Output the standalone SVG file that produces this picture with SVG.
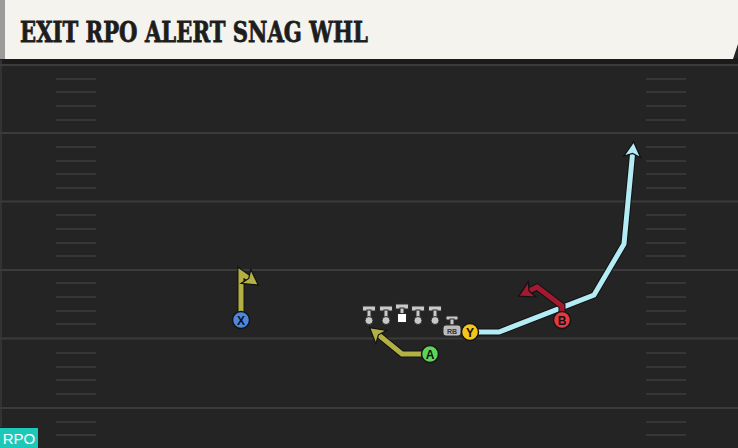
<svg xmlns="http://www.w3.org/2000/svg" width="738" height="448" viewBox="0 0 738 448">
<defs>
<style>
.yard{stroke:#3b3b3b;stroke-width:2}
.hash{stroke:#363636;stroke-width:2}
.outline{fill:none;stroke:#111;stroke-width:7;stroke-linejoin:miter;stroke-linecap:butt}
.route{fill:none;stroke-width:5;stroke-linejoin:miter;stroke-linecap:butt}
.olive{stroke:#b3b145}
.sky{stroke:#b4ecf6}
.crimson{stroke:#a3192f}
.pl{stroke:#151515;stroke-width:1.5}
.lbl{font-family:"Liberation Sans",Arial,sans-serif;font-weight:bold;font-size:12px;fill:#111;text-anchor:middle}
.lin{fill:#c9c9c9;stroke:#2a2a2a;stroke-width:1}
</style>
<marker id="ahOlive" markerUnits="userSpaceOnUse" markerWidth="30" markerHeight="30" refX="2" refY="0" viewBox="-15 -15 30 30" orient="auto" overflow="visible">
<path d="M-6,-8.5 L9,0 L-6,8.5 L-2.5,0 Z" fill="#b3b145" stroke="#111" stroke-width="1.2"/>
</marker>
<marker id="ahSky" markerUnits="userSpaceOnUse" markerWidth="30" markerHeight="30" refX="2" refY="0" viewBox="-15 -15 30 30" orient="auto" overflow="visible">
<path d="M-6,-8.5 L9,0 L-6,8.5 L-2.5,0 Z" fill="#b4ecf6" stroke="#111" stroke-width="1.2"/>
</marker>
<marker id="ahCrimson" markerUnits="userSpaceOnUse" markerWidth="30" markerHeight="30" refX="2" refY="0" viewBox="-15 -15 30 30" orient="auto" overflow="visible">
<path d="M-6,-8.5 L9,0 L-6,8.5 L-2.5,0 Z" fill="#a3192f" stroke="#111" stroke-width="1.2"/>
</marker>
</defs>

<g id="field">
<rect x="0" y="0" width="738" height="448" fill="#242424"/>
<rect x="0" y="58" width="738" height="6" fill="#1b1b1b"/>
<rect x="0" y="60" width="2" height="388" fill="#333"/>
<line class="yard" x1="0" y1="65" x2="738" y2="65"/>
<line class="yard" x1="0" y1="133" x2="738" y2="133"/>
<line class="yard" x1="0" y1="201.5" x2="738" y2="201.5"/>
<line class="yard" x1="0" y1="270" x2="738" y2="270"/>
<line class="yard" x1="0" y1="338.5" x2="738" y2="338.5"/>
<line class="yard" x1="0" y1="408" x2="738" y2="408"/>
<g id="hashLeft">
<line class="hash" x1="56" y1="79" x2="96" y2="79"/>
<line class="hash" x1="56" y1="92" x2="96" y2="92"/>
<line class="hash" x1="56" y1="106" x2="96" y2="106"/>
<line class="hash" x1="56" y1="120" x2="96" y2="120"/>
<line class="hash" x1="56" y1="147" x2="96" y2="147"/>
<line class="hash" x1="56" y1="161" x2="96" y2="161"/>
<line class="hash" x1="56" y1="174" x2="96" y2="174"/>
<line class="hash" x1="56" y1="188" x2="96" y2="188"/>
<line class="hash" x1="56" y1="215" x2="96" y2="215"/>
<line class="hash" x1="56" y1="229" x2="96" y2="229"/>
<line class="hash" x1="56" y1="243" x2="96" y2="243"/>
<line class="hash" x1="56" y1="256" x2="96" y2="256"/>
<line class="hash" x1="56" y1="283" x2="96" y2="283"/>
<line class="hash" x1="56" y1="297" x2="96" y2="297"/>
<line class="hash" x1="56" y1="311" x2="96" y2="311"/>
<line class="hash" x1="56" y1="324" x2="96" y2="324"/>
<line class="hash" x1="56" y1="353" x2="96" y2="353"/>
<line class="hash" x1="56" y1="367" x2="96" y2="367"/>
<line class="hash" x1="56" y1="380" x2="96" y2="380"/>
<line class="hash" x1="56" y1="394" x2="96" y2="394"/>
<line class="hash" x1="56" y1="422" x2="96" y2="422"/>
<line class="hash" x1="56" y1="435" x2="96" y2="435"/>
</g>
<use href="#hashLeft" x="590"/>
</g>

<g id="header">
<rect x="0" y="0" width="5" height="59" fill="#9b9b9b"/>
<polygon points="5,0 738,0 738,44 733,59 5,59" fill="#f5f3ed"/>
<text x="20" y="35" transform="scale(1,1.2)" font-family="'DejaVu Serif',serif" font-weight="bold" font-size="24" fill="#1d1d1d" stroke="#1d1d1d" stroke-width="0.7" textLength="348" lengthAdjust="spacingAndGlyphs">EXIT RPO ALERT SNAG WHL</text>
</g>

<g id="connectors">
<polyline class="outline" points="241,312 241,273 252.5,281"/>
<polyline class="route olive" points="241,312 241,273 252.5,281" marker-end="url(#ahOlive)"/>
<polyline class="outline" points="422,354 402,354 375,332"/>
<polyline class="route olive" points="422,354 402,354 375,332" marker-end="url(#ahOlive)"/>
<polyline class="outline" points="478,332 499,332 594,295 624,244 633,149"/>
<polyline class="route sky" points="478,332 499,332 594,295 624,244 633,149" marker-end="url(#ahSky)"/>
<polyline class="outline" points="562,312 562,306 537,287 525,293"/>
<polyline class="route crimson" points="562,312 562,306 537,287 525,293" marker-end="url(#ahCrimson)"/>
</g>

<g id="line">
<g id="LT"><rect class="lin" x="362.5" y="306" width="13" height="5" rx="1"/><rect class="lin" x="367" y="310" width="4" height="8"/><circle class="lin" cx="369" cy="320.5" r="4"/></g>
<g id="LG"><rect class="lin" x="379.5" y="306" width="13" height="5" rx="1"/><rect class="lin" x="384" y="310" width="4" height="8"/><circle class="lin" cx="386" cy="320.5" r="4"/></g>
<g id="C"><rect class="lin" x="395.5" y="304" width="13" height="5" rx="1"/><rect class="lin" x="400" y="308" width="4" height="6"/><rect x="397.5" y="313.5" width="9" height="9" fill="#fff" stroke="#2a2a2a" stroke-width="1"/></g>
<g id="RG"><rect class="lin" x="411.5" y="306" width="13" height="5" rx="1"/><rect class="lin" x="416" y="310" width="4" height="8"/><circle class="lin" cx="418" cy="320.5" r="4"/></g>
<g id="RT"><rect class="lin" x="428.5" y="306" width="13" height="5" rx="1"/><rect class="lin" x="433" y="310" width="4" height="8"/><circle class="lin" cx="435" cy="320.5" r="4"/></g>
<g id="RB"><rect class="lin" x="446" y="316" width="12" height="4" rx="1"/><rect class="lin" x="450" y="319" width="4" height="6"/><rect x="443" y="325" width="18" height="11" rx="3" fill="#bdbdbd" stroke="#2a2a2a" stroke-width="1"/><text x="452" y="333.5" font-family="'Liberation Sans',Arial,sans-serif" font-weight="bold" font-size="7" fill="#333" text-anchor="middle">RB</text></g>
</g>

<g id="X"><circle class="pl" cx="241" cy="320" r="8.5" fill="#4c87e0"/><text class="lbl" x="241" y="324.5">X</text></g>
<g id="A"><circle class="pl" cx="430" cy="354" r="8.5" fill="#5ed35a"/><text class="lbl" x="430" y="358.5">A</text></g>
<g id="Y"><circle class="pl" cx="470" cy="332" r="8.5" fill="#f6c51b"/><text class="lbl" x="470" y="336.5">Y</text></g>
<g id="B"><circle class="pl" cx="562" cy="320" r="8.5" fill="#e63a40"/><text class="lbl" x="562" y="324.5">B</text></g>

<g id="tag">
<rect x="0" y="427" width="38" height="1.5" fill="#3a1a16"/>
<rect x="0" y="428" width="38" height="20" fill="#1ec8b9"/>
<text x="19" y="444" font-family="'Liberation Sans',Arial,sans-serif" font-size="15" fill="#fff" text-anchor="middle">RPO</text>
</g>
</svg>
